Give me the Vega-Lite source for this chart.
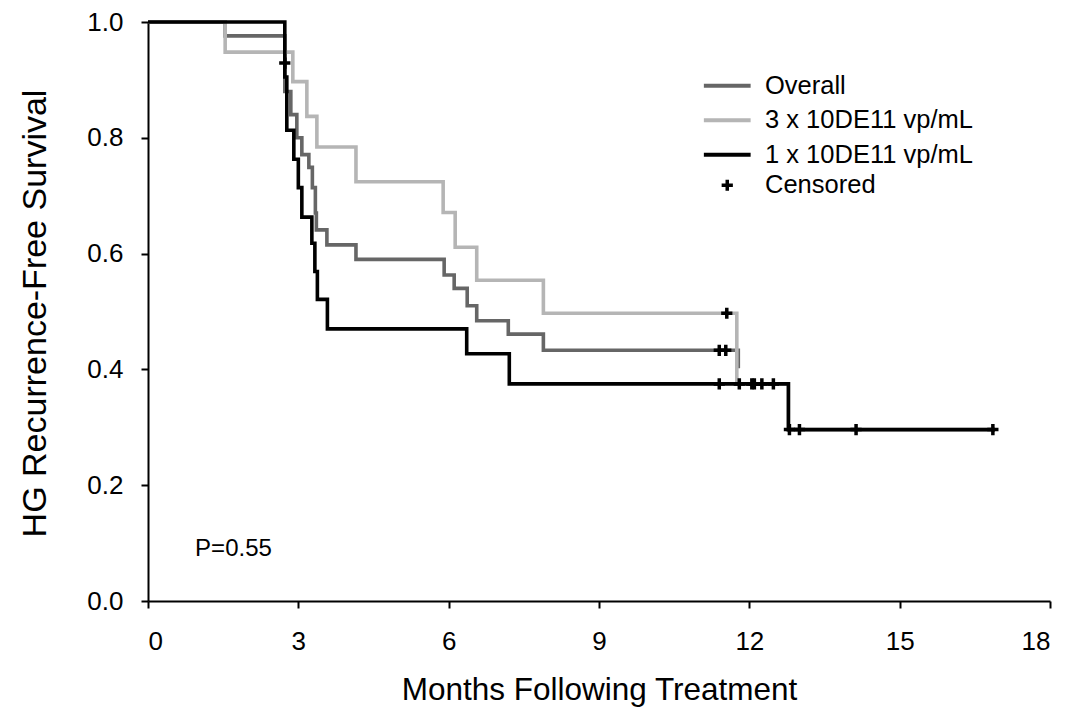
{
  "$schema": "https://vega.github.io/schema/vega-lite/v6.json",
  "width": 902,
  "height": 579,
  "autosize": "none",
  "padding": {"left": 148, "top": 22, "right": 21, "bottom": 113},
  "background": "white",
  "config": {
    "view": {"stroke": null},
    "font": "Liberation Sans",
    "axis": {
      "grid": false,
      "domainColor": "#000000",
      "domainWidth": 2,
      "tickColor": "#000000",
      "tickWidth": 2,
      "tickSize": 7,
      "labelFont": "Liberation Sans",
      "labelColor": "#000000",
      "labelFontSize": 26,
      "titleFont": "Liberation Sans",
      "titleColor": "#000000",
      "titleFontWeight": "normal"
    },
    "legend": {
      "labelFont": "Liberation Sans",
      "labelFontSize": 25.5,
      "labelColor": "#000000",
      "labelLimit": 400,
      "padding": 0
    }
  },
  "datasets": {
    "curves": [
      {"group": "Overall", "month": 0, "surv": 1.0},
      {"group": "Overall", "month": 1.54, "surv": 0.976},
      {"group": "Overall", "month": 2.73, "surv": 0.88},
      {"group": "Overall", "month": 2.85, "surv": 0.84},
      {"group": "Overall", "month": 2.97, "surv": 0.80},
      {"group": "Overall", "month": 3.07, "surv": 0.771},
      {"group": "Overall", "month": 3.21, "surv": 0.749},
      {"group": "Overall", "month": 3.28, "surv": 0.714},
      {"group": "Overall", "month": 3.34, "surv": 0.670},
      {"group": "Overall", "month": 3.36, "surv": 0.641},
      {"group": "Overall", "month": 3.57, "surv": 0.615},
      {"group": "Overall", "month": 4.15, "surv": 0.590},
      {"group": "Overall", "month": 5.91, "surv": 0.563},
      {"group": "Overall", "month": 6.11, "surv": 0.540},
      {"group": "Overall", "month": 6.37, "surv": 0.510},
      {"group": "Overall", "month": 6.56, "surv": 0.484},
      {"group": "Overall", "month": 7.19, "surv": 0.461},
      {"group": "Overall", "month": 7.89, "surv": 0.433},
      {"group": "Overall", "month": 11.78, "surv": 0.402},
      {"group": "3 x 10DE11 vp/mL", "month": 0, "surv": 1.0},
      {"group": "3 x 10DE11 vp/mL", "month": 1.54, "surv": 0.948},
      {"group": "3 x 10DE11 vp/mL", "month": 2.89, "surv": 0.897},
      {"group": "3 x 10DE11 vp/mL", "month": 3.17, "surv": 0.837},
      {"group": "3 x 10DE11 vp/mL", "month": 3.37, "surv": 0.784},
      {"group": "3 x 10DE11 vp/mL", "month": 4.15, "surv": 0.724},
      {"group": "3 x 10DE11 vp/mL", "month": 5.89, "surv": 0.671},
      {"group": "3 x 10DE11 vp/mL", "month": 6.13, "surv": 0.611},
      {"group": "3 x 10DE11 vp/mL", "month": 6.56, "surv": 0.554},
      {"group": "3 x 10DE11 vp/mL", "month": 7.89, "surv": 0.497},
      {"group": "3 x 10DE11 vp/mL", "month": 11.75, "surv": 0.375},
      {"group": "3 x 10DE11 vp/mL", "month": 12.78, "surv": 0.296},
      {"group": "3 x 10DE11 vp/mL", "month": 16.9, "surv": 0.296},
      {"group": "1 x 10DE11 vp/mL", "month": 0, "surv": 1.0},
      {"group": "1 x 10DE11 vp/mL", "month": 2.73, "surv": 0.905},
      {"group": "1 x 10DE11 vp/mL", "month": 2.77, "surv": 0.813},
      {"group": "1 x 10DE11 vp/mL", "month": 2.91, "surv": 0.763},
      {"group": "1 x 10DE11 vp/mL", "month": 3.0, "surv": 0.714},
      {"group": "1 x 10DE11 vp/mL", "month": 3.07, "surv": 0.663},
      {"group": "1 x 10DE11 vp/mL", "month": 3.27, "surv": 0.618},
      {"group": "1 x 10DE11 vp/mL", "month": 3.33, "surv": 0.569},
      {"group": "1 x 10DE11 vp/mL", "month": 3.38, "surv": 0.521},
      {"group": "1 x 10DE11 vp/mL", "month": 3.58, "surv": 0.470},
      {"group": "1 x 10DE11 vp/mL", "month": 6.36, "surv": 0.427},
      {"group": "1 x 10DE11 vp/mL", "month": 7.21, "surv": 0.375},
      {"group": "1 x 10DE11 vp/mL", "month": 12.78, "surv": 0.296},
      {"group": "1 x 10DE11 vp/mL", "month": 16.9, "surv": 0.296}
    ],
    "censored": [
      {"type": "Censored", "month": 2.73, "surv": 0.929},
      {"type": "Censored", "month": 11.40, "surv": 0.433},
      {"type": "Censored", "month": 11.53, "surv": 0.433},
      {"type": "Censored", "month": 11.55, "surv": 0.497},
      {"type": "Censored", "month": 11.40, "surv": 0.375},
      {"type": "Censored", "month": 11.80, "surv": 0.375},
      {"type": "Censored", "month": 12.05, "surv": 0.375},
      {"type": "Censored", "month": 12.10, "surv": 0.375},
      {"type": "Censored", "month": 12.25, "surv": 0.375},
      {"type": "Censored", "month": 12.48, "surv": 0.375},
      {"type": "Censored", "month": 12.80, "surv": 0.296},
      {"type": "Censored", "month": 13.00, "surv": 0.296},
      {"type": "Censored", "month": 14.13, "surv": 0.296},
      {"type": "Censored", "month": 16.86, "surv": 0.296}
    ],
    "note": [
      {"month": 0.94, "surv": 0.09, "label": "P=0.55"}
    ]
  },
  "layer": [
    {
      "data": {"name": "curves"},
      "mark": {"type": "line", "interpolate": "step-after", "strokeWidth": 3.6, "strokeCap": "butt", "strokeJoin": "miter"},
      "encoding": {
        "x": {
          "field": "month", "type": "quantitative",
          "scale": {"domain": [0, 18], "nice": false},
          "axis": {"values": [0, 3, 6, 9, 12, 15, 18], "title": "Months Following Treatment", "titleFontSize": 31.5, "labelPadding": 20, "titleBaseline": "middle", "titleY": 89, "titleX": 451}
        },
        "y": {
          "field": "surv", "type": "quantitative",
          "scale": {"domain": [0, 1], "nice": false},
          "axis": {"values": [0, 0.2, 0.4, 0.6, 0.8, 1.0], "format": ".1f", "title": "HG Recurrence-Free Survival", "titleFontSize": 34, "labelPadding": 18, "titleBaseline": "middle", "titleX": -113, "titleY": 291}
        },
        "color": {
          "field": "group", "type": "nominal",
          "scale": {"domain": ["Overall", "3 x 10DE11 vp/mL", "1 x 10DE11 vp/mL"], "range": ["#666666", "#b5b5b5", "#000000"]},
          "legend": {"orient": "none", "legendX": 566.5, "legendY": 51, "title": null, "symbolType": "M-2.5,0H2.5", "symbolSize": 350, "symbolStrokeWidth": 4, "labelOffset": 25, "rowPadding": 7.5, "labelLimit": 400}
        }
      }
    },
    {
      "data": {"name": "censored"},
      "mark": {"type": "point", "filled": false, "size": 350, "strokeWidth": 3.5, "color": "#000000", "opacity": 1},
      "encoding": {
        "x": {"field": "month", "type": "quantitative"},
        "y": {"field": "surv", "type": "quantitative"},
        "shape": {
          "field": "type", "type": "nominal",
          "scale": {"domain": ["Censored"], "range": ["M-0.6,0H0.6M0,-0.6V0.6"]},
          "legend": {"orient": "none", "legendX": 566.5, "legendY": 150.5, "title": null, "symbolSize": 350, "symbolStrokeWidth": 3.5, "symbolStrokeColor": "#000000", "labelOffset": 25, "labelLimit": 400}
        }
      }
    },
    {
      "data": {"name": "note"},
      "mark": {"type": "text", "align": "left", "baseline": "middle", "fontSize": 24, "font": "Liberation Sans", "color": "#000000"},
      "encoding": {
        "x": {"field": "month", "type": "quantitative"},
        "y": {"field": "surv", "type": "quantitative"},
        "text": {"field": "label"}
      }
    }
  ]
}
